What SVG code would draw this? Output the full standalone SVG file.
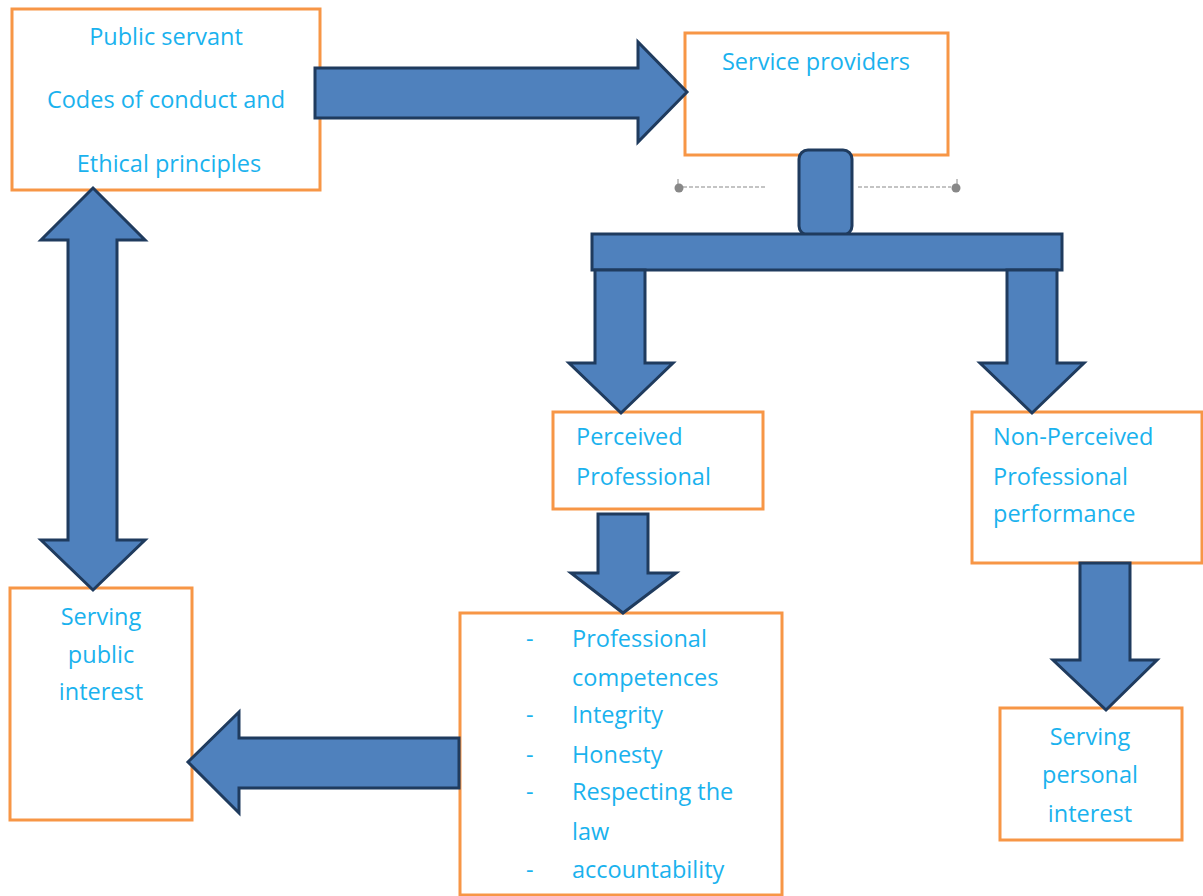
<svg xmlns="http://www.w3.org/2000/svg" width="1203" height="896" viewBox="0 0 1203 896">
<style>
.box{fill:#fff;stroke:#F79646;stroke-width:3}
.arr{fill:#4F81BD;stroke:#1F3B5E;stroke-width:3;stroke-linejoin:miter}
.t{font-family:"Open Sans","Liberation Sans",sans-serif;font-size:23.5px;font-weight:500;fill:#1AB2EE}
.c{text-anchor:middle}
.dash{stroke:#8a8a8a;stroke-width:1.2;stroke-dasharray:4 2;fill:none}
.h{fill:#888}
</style>
<rect width="1203" height="896" fill="#fff"/>
<g id="public-servant">
<rect class="box" x="12" y="9" width="308" height="181"/>
<text class="t c" x="166" y="45">Public servant</text>
<text class="t c" x="166" y="108">Codes of conduct and</text>
<text class="t c" x="169" y="172">Ethical principles</text>
</g>
<g id="service-providers">
<rect class="box" x="685" y="33" width="263" height="122"/>
<text class="t c" x="816" y="70">Service providers</text>
</g>
<g id="perceived">
<rect class="box" x="553" y="412" width="210" height="97"/>
<text class="t" x="576" y="445">Perceived</text>
<text class="t" x="576" y="485">Professional</text>
</g>
<g id="non-perceived">
<rect class="box" x="972" y="412" width="230" height="151"/>
<text class="t" x="993" y="445">Non-Perceived</text>
<text class="t" x="993" y="485">Professional</text>
<text class="t" x="993" y="522">performance</text>
</g>
<g id="qualities">
<rect class="box" x="460" y="613" width="322" height="282"/>
<text class="t" x="526" y="647">-</text>
<text class="t" x="572" y="647">Professional</text>
<text class="t" x="572" y="686">competences</text>
<text class="t" x="526" y="723">-</text>
<text class="t" x="572" y="723">Integrity</text>
<text class="t" x="526" y="763">-</text>
<text class="t" x="572" y="763">Honesty</text>
<text class="t" x="526" y="800">-</text>
<text class="t" x="572" y="800">Respecting the</text>
<text class="t" x="572" y="840">law</text>
<text class="t" x="526" y="878">-</text>
<text class="t" x="572" y="878">accountability</text>
</g>
<g id="serving-public">
<rect class="box" x="10" y="588" width="182" height="232"/>
<text class="t c" x="101" y="625">Serving</text>
<text class="t c" x="101" y="663">public</text>
<text class="t c" x="101" y="700">interest</text>
</g>
<g id="serving-personal">
<rect class="box" x="1000" y="708" width="182" height="132"/>
<text class="t c" x="1090" y="745">Serving</text>
<text class="t c" x="1090" y="783">personal</text>
<text class="t c" x="1090" y="822">interest</text>
</g>
<g id="connectors">
<path class="arr" d="M315,68 H638 V42 L687,92 L638,142 V118 H315 Z"/>
<path class="arr" d="M93,188 L145,240 H117 V540 H145 L93,590 L41,540 H68 V240 H41 Z"/>
<path class="arr" d="M459,738 V788 H239 V813 L188,762 L239,712 V738 Z"/>
<rect class="arr" x="799" y="150" width="53" height="85" rx="9"/>
<rect class="arr" x="592" y="234" width="470" height="36"/>
<path class="arr" d="M595,270 H645 V363 H673 L621,413 L569,363 H595 Z"/>
<path class="arr" d="M1007,270 H1057 V363 H1084 L1032,413 L980,363 H1007 Z"/>
<path class="arr" d="M598,514 H648 V573 H676 L623,613 L571,573 H598 Z"/>
<path class="arr" d="M1080,563 H1130 V660 H1157 L1106,710 L1053,660 H1080 Z"/>
<line class="dash" x1="683" y1="187" x2="766" y2="187"/>
<line class="dash" x1="858" y1="187" x2="951" y2="187"/>
<circle class="h" cx="679" cy="188" r="4.5"/>
<line x1="678" y1="179" x2="678" y2="184" stroke="#888" stroke-width="1"/>
<circle class="h" cx="956" cy="188" r="4.5"/>
<line x1="957" y1="179" x2="957" y2="184" stroke="#888" stroke-width="1"/>
</g>
</svg>
